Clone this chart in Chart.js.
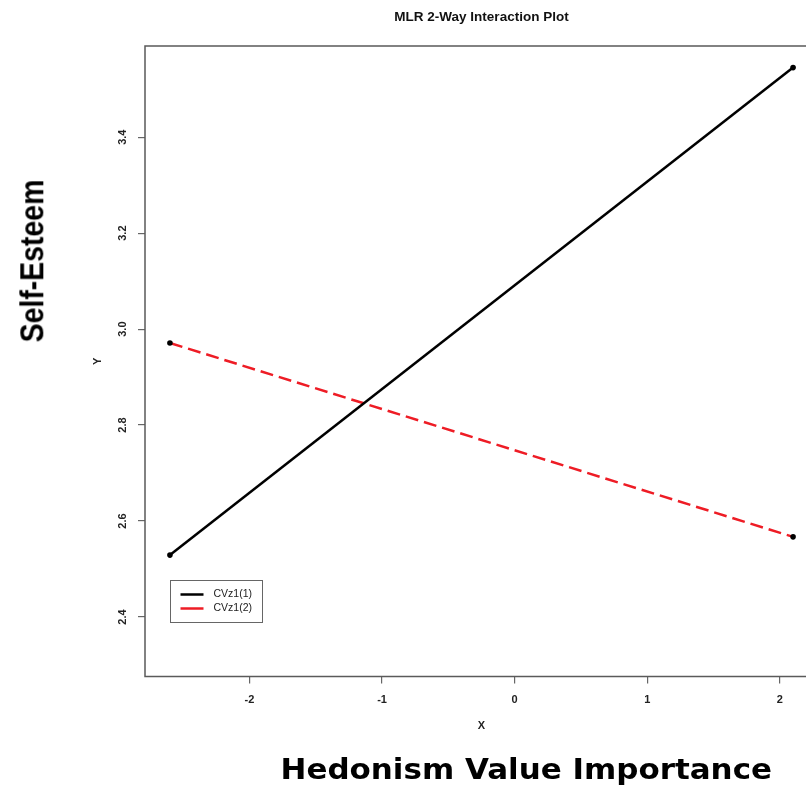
<!DOCTYPE html>
<html><head><meta charset="utf-8">
<script src="https://cdn.jsdelivr.net/npm/chart.js@4.4.0/dist/chart.umd.min.js"></script>
<style>
html,body{margin:0;padding:0;background:#fff;width:806px;height:786px;overflow:hidden;position:relative}
#c{position:absolute;left:0;top:0}
.big{position:absolute;white-space:nowrap;color:#000;font-weight:bold;line-height:1;transform-origin:50% 50%}
#yl{font-family:"Liberation Sans",Arial,sans-serif;font-size:34px}
#xl{font-family:"DejaVu Sans",sans-serif;font-size:29px}
</style></head><body>
<canvas id="c" width="840" height="786"></canvas>
<div id="yl" class="big">Self-Esteem</div>
<div id="xl" class="big">Hedonism Value Importance</div>
<script>
// ---- data ----
const xValues = [-2.6, 2.1];
const series1 = [2.529, 3.545];   // CVz1(1)
const series2 = [2.971, 2.567];   // CVz1(2)
const seriesNames = ['CVz1(1)', 'CVz1(2)'];
const xTicks = [-2, -1, 0, 1, 2];
const yTicks = [2.4, 2.6, 2.8, 3.0, 3.2, 3.4];
const chartTitle = 'MLR 2-Way Interaction Plot';
const xTitle = 'X';
const yTitle = 'Y';

Chart.defaults.font.family = '"Liberation Sans", Arial, sans-serif';
Chart.defaults.color = '#222';

const toPoints = (ys) => xValues.map((x, i) => ({x: x, y: ys[i]}));

const boxPlugin = {
  id: 'plotBox',
  afterDraw(chart) {
    const {ctx, chartArea: a} = chart;
    ctx.save();
    ctx.strokeStyle = '#5a5a5a';
    ctx.lineWidth = 1.5;
    ctx.strokeRect(a.left, a.top, a.right - a.left, a.bottom - a.top);
    ctx.restore();
  }
};

const legendPlugin = {
  id: 'insideLegend',
  afterDraw(chart) {
    const {ctx, chartArea: a} = chart;
    const left = a.left + 25.5, top = 580.5, w = 92, h = 42;
    ctx.save();
    ctx.fillStyle = '#fff';
    ctx.fillRect(left, top, w, h);
    ctx.strokeStyle = '#666';
    ctx.lineWidth = 1;
    ctx.strokeRect(left, top, w, h);
    chart.data.datasets.forEach((ds, i) => {
      const y = top + 14 + i * 14;
      ctx.strokeStyle = ds.borderColor;
      ctx.lineWidth = 2.5;
      ctx.setLineDash([]);
      ctx.beginPath();
      ctx.moveTo(left + 10, y);
      ctx.lineTo(left + 33, y);
      ctx.stroke();
      ctx.fillStyle = '#222';
      ctx.font = '10.5px "Liberation Sans", Arial, sans-serif';
      ctx.textBaseline = 'middle';
      ctx.textAlign = 'left';
      ctx.fillText(ds.label, left + 43, y);
    });
    ctx.restore();
  }
};

new Chart(document.getElementById('c'), {
  type: 'scatter',
  data: {
    datasets: [
      {
        label: seriesNames[0],
        data: toPoints(series1),
        showLine: true,
        borderColor: '#000000',
        borderWidth: 2.5,
        pointRadius: 2.8,
        pointBackgroundColor: '#000',
        pointBorderColor: '#000',
        pointBorderWidth: 0
      },
      {
        label: seriesNames[1],
        data: toPoints(series2),
        showLine: true,
        borderColor: '#ee1c25',
        borderWidth: 2.5,
        borderDash: [13, 6],
        pointRadius: 2.8,
        pointBackgroundColor: '#000',
        pointBorderColor: '#000',
        pointBorderWidth: 0
      }
    ]
  },
  options: {
    responsive: false,
    animation: false,
    devicePixelRatio: 1,
    layout: {padding: {left: 0, right: 22, top: 0, bottom: 0}},
    plugins: {
      legend: {display: false},
      tooltip: {enabled: false},
      title: {
        display: true,
        text: chartTitle,
        fullSize: false,
        color: '#111',
        font: {size: 13.5, weight: 'bold'},
        padding: {top: 9, bottom: 20.8}
      }
    },
    scales: {
      x: {
        type: 'linear',
        min: -2.788,
        max: 2.288,
        afterFit: (s) => { s.height = 109.5; },
        afterBuildTicks: (s) => { s.ticks = xTicks.map(v => ({value: v})); },
        border: {display: false},
        grid: {display: true, drawOnChartArea: false, drawTicks: true, tickLength: 7, color: '#666', lineWidth: 1.2},
        ticks: {font: {size: 11, weight: 'bold'}, padding: 10, color: '#222', callback: (v) => String(v)},
        title: {display: true, text: xTitle, font: {size: 11, weight: 'bold'}, color: '#222', padding: {top: 0, bottom: 53}}
      },
      y: {
        type: 'linear',
        min: 2.276,
        max: 3.590,
        afterFit: (s) => { s.width = 145; },
        afterBuildTicks: (s) => { s.ticks = yTicks.map(v => ({value: v})); },
        border: {display: false},
        grid: {display: true, drawOnChartArea: false, drawTicks: true, tickLength: 7, color: '#666', lineWidth: 1.2},
        ticks: {font: {size: 11, weight: 'bold'}, padding: 7, color: '#222', minRotation: 90, maxRotation: 90, crossAlign: 'center', callback: (v) => Number(v).toFixed(1)},
        title: {display: true, text: yTitle, font: {size: 11, weight: 'bold'}, color: '#222', padding: {top: 91, bottom: 0}}
      }
    }
  },
  plugins: [boxPlugin, legendPlugin]
});

// big annotation labels (real text), scaled to fit their spans
function placeLabel(id, cx, cy, len, rotate) {
  const el = document.getElementById(id);
  const w = el.offsetWidth, h = el.offsetHeight;
  el.style.left = (cx - w / 2) + 'px';
  el.style.top = (cy - h / 2) + 'px';
  const sx = len / w;
  el.style.transform = (rotate ? 'rotate(-90deg) ' : '') + 'scale(' + sx + ',1)';
}
placeLabel('yl', 31.4, 261, 163, true);
placeLabel('xl', 526, 769, 492, false);
</script>
</body></html>
